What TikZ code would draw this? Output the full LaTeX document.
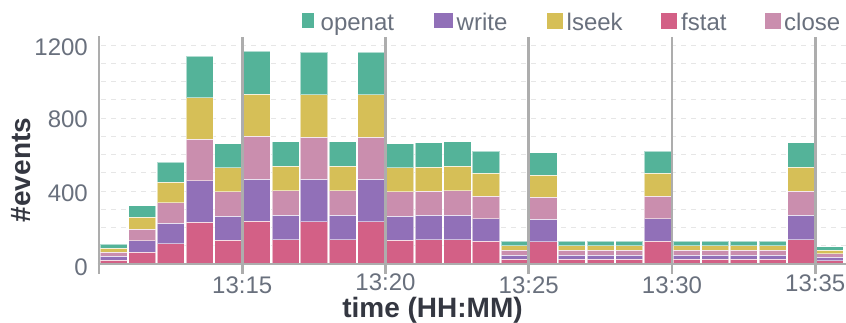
\documentclass[tikz,border=0pt]{standalone}
\usepackage{fontspec}
\setmainfont{Liberation Sans}
\definecolor{cOpen}{HTML}{54B399}
\definecolor{cWrite}{HTML}{9170B8}
\definecolor{cLseek}{HTML}{D6BF57}
\definecolor{cFstat}{HTML}{D36086}
\definecolor{cClose}{HTML}{CA8EAE}
\definecolor{axisgray}{HTML}{ADADAD}
\definecolor{gridgray}{HTML}{E6E6E6}
\definecolor{ticktext}{HTML}{69707D}
\definecolor{titletext}{HTML}{343741}
\tikzset{
  gridline/.style={draw=gridgray, line width=0.9pt, dash pattern=on 5pt off 5pt},
  axisline/.style={draw=axisgray, line width=2.6pt},
  barpart/.style={draw=white, draw opacity=0.55, line width=0.6pt},
  ticklabel/.style={text=ticktext, font=\fontsize{24}{24}\selectfont, inner sep=0pt},
  legendlabel/.style={text=ticktext, font=\fontsize{24}{24}\selectfont, inner sep=0pt, anchor=base west},
  axistitle/.style={text=titletext, font=\fontsize{28}{28}\selectfont\bfseries, inner sep=0pt},
}
\begin{document}
\begin{tikzpicture}[x=1pt, y=-1pt]
\useasboundingbox (0,0) rectangle (846,323);

% horizontal dashed grid, every 100 events
\foreach \v in {1,...,12}{
  \draw[gridline] (101,264-\v*18.25) -- (846,264-\v*18.25);
}

% stacked bars, one per minute: fstat, write, close, lseek, openat (equal layers)
\foreach \n [count=\i from 0] in {22,64,112,228,132,233,134,232,134,232,132,133,134,124,25,122,25,25,25,124,25,25,25,25,133,19}{
  \pgfmathsetmacro{\xa}{99+\i*28.65+0.9}
  \pgfmathsetmacro{\xb}{99+(\i+1)*28.65-0.6}
  \pgfmathsetmacro{\h}{\n*0.1825}
  \foreach \c [count=\k from 0] in {cFstat,cWrite,cClose,cLseek,cOpen}{
    \pgfmathsetmacro{\ya}{264-\k*\h}
    \pgfmathsetmacro{\yb}{264-(\k+1)*\h}
    \fill[\c] (\xa,\ya) rectangle (\xb,\yb);
    \draw[barpart] (\xa,\ya) rectangle (\xb,\yb);
  }
}

% axes and five-minute markers
\draw[axisline] (97.7,264) -- (846,264);
\draw[axisline] (99,36.5) -- (99,274);
\foreach \m in {1,...,5}{
  \draw[axisline] (99+\m*143.25,37) -- (99+\m*143.25,274);
}

% y tick labels
\node[ticklabel, anchor=base east] (y0)    at (88,275) {0};
\node[ticklabel, anchor=base east] (y400)  at (88,201.5) {400};
\node[ticklabel, anchor=base east] (y800)  at (88,128) {800};
\node[ticklabel, anchor=base east] (y1200) at (88,56) {1200};

% x tick labels
\node[ticklabel, anchor=base] (t15) at (242.25,293) {13:15};
\node[ticklabel, anchor=base] (t20) at (385.5,290.5) {13:20};
\node[ticklabel, anchor=base] (t25) at (528.75,293) {13:25};
\node[ticklabel, anchor=base] (t30) at (672,293) {13:30};
\node[ticklabel, anchor=base] (t35) at (815.25,291) {13:35};

% axis titles
\node[axistitle, anchor=base] (xtitle) at (432.5,317) {time (HH:MM)};
\node[axistitle, rotate=90] (ytitle) at (21,170) {\#events};

% legend
\fill[cOpen]  (302,12.7) rectangle (313.5,28.3);
\node[legendlabel] (lgopen) at (320.5,30.5) {openat};
\fill[cWrite] (433.5,12.7) rectangle (453,28.3);
\node[legendlabel] (lgwrite) at (456.5,30.5) {write};
\fill[cLseek] (547.3,13) rectangle (562.7,29);
\node[legendlabel] (lglseek) at (566.5,30.5) {lseek};
\fill[cFstat] (660.7,13) rectangle (676.5,29);
\node[legendlabel] (lgfstat) at (681,30.5) {fstat};
\fill[cClose] (765,13) rectangle (780.7,29);
\node[legendlabel] (lgclose) at (784,30.5) {close};
\end{tikzpicture}
\end{document}
